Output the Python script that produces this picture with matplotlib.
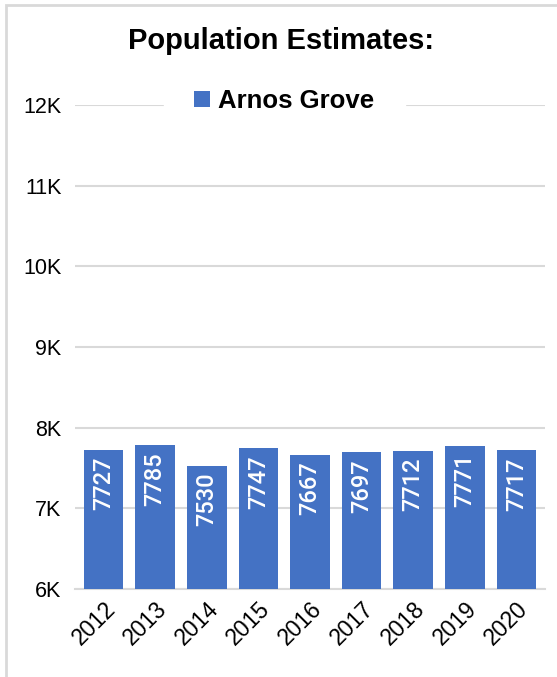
import matplotlib.pyplot as plt
from matplotlib.patches import Rectangle
from matplotlib.ticker import FuncFormatter

years = ['2012', '2013', '2014', '2015', '2016', '2017', '2018', '2019', '2020']
population = [7727, 7785, 7530, 7747, 7667, 7697, 7712, 7771, 7717]
series_name = 'Arnos Grove'
title = 'Population Estimates:'

plt.rcParams['font.family'] = ['Liberation Sans', 'DejaVu Sans']

fig = plt.figure(figsize=(5.57, 6.77), dpi=100)
ax = fig.add_axes([0.135, 0.130, 0.843, 0.715])

bars = ax.bar(years, population, width=0.77, color='#4472C4', label=series_name, zorder=3)
# value labels, white, rotated, just under the top of each bar
for rect, val in zip(bars, population):
    ax.annotate(str(val), (rect.get_x() + rect.get_width() / 2, rect.get_height()),
                xytext=(0, -5), textcoords='offset points', rotation=90,
                ha='center', va='top', color='white', fontsize=17, fontweight='medium',
                family=['Roboto', 'DejaVu Sans'], zorder=4)

ax.set_ylim(6000, 12000)
ax.set_yticks(range(6000, 12001, 1000))
ax.yaxis.set_major_formatter(FuncFormatter(lambda v, p: f'{int(v / 1000)}K'))
ax.set_xlim(-0.55, len(years) - 0.45)
ax.grid(axis='y', color='#d9d9d9', lw=1.5, zorder=0)
for s in ax.spines.values():
    s.set_visible(False)
ax.spines['bottom'].set_visible(True)
ax.spines['bottom'].set_color('#d9d9d9')
ax.spines['bottom'].set_linewidth(1.5)
ax.tick_params(length=0, labelsize=15.5)
ax.tick_params(axis='y', pad=10)
ax.tick_params(axis='x', pad=6, labelsize=16.5)
plt.setp(ax.get_xticklabels(), rotation=45, ha='right', rotation_mode='anchor')

fig.text(0.504, 0.939, title, ha='center', va='center', fontsize=21, fontweight='bold')
leg = fig.legend(loc='center', bbox_to_anchor=(0.51, 0.851), frameon=True,
                 prop={'size': 18.5, 'weight': 'bold'}, handlelength=0.6, handleheight=0.6,
                 handletextpad=0.3, borderpad=1.2)
leg.get_frame().set_edgecolor('white')
leg.get_frame().set_facecolor('white')
leg.get_frame().set_alpha(1)

# light grey chart-area border (left and top edges visible)
fig.patches.append(Rectangle((6 / 557, -0.1), 1.2, 1.1 - 5 / 677, transform=fig.transFigure,
                             fill=False, edgecolor='#d9d9d9', lw=2))

fig.savefig('out.png', dpi=100)
